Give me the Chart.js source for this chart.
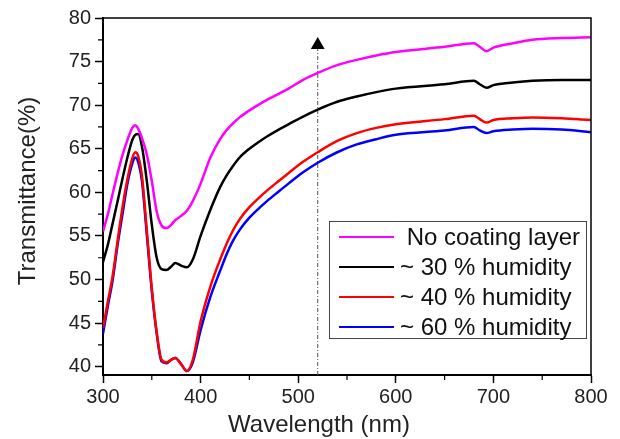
<!DOCTYPE html>
<html>
<head>
    <title>Transmittance vs Wavelength</title>
    <script src="https://cdn.jsdelivr.net/npm/chart.js"></script>
    <meta charset="UTF-8" />
    <style>
  html, body {
    margin: 0;
    padding: 0;
    background: #fff;
    overflow: hidden;
  }
  #wrap {
    width: 620px;
    height: 439px;
  }
</style>
</head>
<body>
    <div id="wrap"><canvas id="myChart" width="620" height="439"></canvas></div>
    <script>
        // Data
        const wavelengths = [300, 305, 310, 315, 320, 325, 330, 333, 336, 340, 345, 350, 355, 360, 365, 370, 374, 380, 386, 392,
                             400, 410, 420, 427, 433, 440, 450, 460, 468, 480, 490, 505, 520, 540, 560, 580, 600, 650, 680, 686, 693, 700, 720, 740, 770, 800];
        const noCoating = [55.5, 57.5, 59.9, 62.2, 64.3, 66.0, 67.4, 67.7, 67.3, 66.2, 64.3, 61.3, 57.8, 56.2, 55.9, 56.3, 56.8, 57.3, 57.9, 59.0,
                           61.0, 64.0, 66.1, 67.2, 67.9, 68.6, 69.4, 70.1, 70.6, 71.3, 71.9, 72.9, 73.7, 74.6, 75.2, 75.7, 76.1, 76.7, 77.1, 76.7, 76.2, 76.6, 77.1, 77.5, 77.7, 77.8];
        const humidity30 = [52.0, 54.0, 56.5, 59.0, 61.6, 64.0, 66.0, 66.6, 66.7, 65.2, 61.2, 56.3, 52.5, 51.2, 51.1, 51.5, 51.9, 51.6, 51.4, 52.3,
                            55.0, 58.0, 60.6, 62.0, 63.0, 64.0, 65.0, 65.8, 66.4, 67.2, 67.8, 68.7, 69.5, 70.4, 71.0, 71.5, 71.9, 72.4, 72.8, 72.4, 72.0, 72.3, 72.6, 72.8, 72.9, 72.9];
        const humidity40 = [44.4, 47.5, 50.5, 54.5, 58.3, 61.5, 63.9, 64.6, 64.2, 61.8, 55.5, 49.0, 44.0, 40.8, 40.5, 40.8, 41.0, 40.3, 39.5, 40.8,
                            45.2, 49.2, 52.3, 54.2, 55.6, 56.9, 58.3, 59.4, 60.2, 61.3, 62.2, 63.5, 64.6, 65.9, 66.8, 67.4, 67.8, 68.4, 68.8, 68.4, 68.0, 68.3, 68.5, 68.6, 68.5, 68.3];
        const humidity60 = [43.8, 47.0, 50.0, 54.0, 57.5, 61.0, 63.3, 64.0, 63.5, 61.2, 55.0, 48.7, 43.8, 40.6, 40.4, 40.8, 41.0, 40.3, 39.5, 40.5,
                            44.2, 48.0, 51.0, 53.0, 54.4, 55.7, 57.1, 58.2, 59.0, 60.1, 61.0, 62.3, 63.4, 64.6, 65.5, 66.1, 66.6, 67.1, 67.5, 67.1, 66.8, 67.0, 67.2, 67.3, 67.2, 66.9];
        const seriesLabels = ['No coating layer', '~ 30 % humidity', '~ 40 % humidity', '~ 60 % humidity'];
        const seriesColors = ['#ff00ff', '#000000', '#ff0000', '#0000ff'];
        const xTicks = [300, 400, 500, 600, 700, 800];
        const xMinorTicks = [350, 450, 550, 650, 750];
        const yTicks = [40, 45, 50, 55, 60, 65, 70, 75, 80];
        const yMinorTicks = [42.5, 47.5, 52.5, 57.5, 62.5, 67.5, 72.5, 77.5];
        // vertical marker with arrow
        const markerX = 520;
        const markerBottom = 39.05;
        const markerTop = 76.9;

        const allSeries = [noCoating, humidity30, humidity40, humidity60];
        const datasets = allSeries.map((vals, i) => ({
            label: seriesLabels[i],
            data: wavelengths.map((w, j) => ({ x: w, y: vals[j] })),
            borderColor: seriesColors[i],
            borderWidth: 2.5,
            pointRadius: 0,
            cubicInterpolationMode: 'monotone',
            fill: false
        }));
        datasets.push({
            label: 'marker',
            data: [{ x: markerX, y: markerBottom }, { x: markerX, y: markerTop }],
            borderColor: '#555',
            borderWidth: 1,
            borderDash: [4, 2, 1, 2],
            pointStyle: 'triangle',
            pointRadius: [0, 8],
            pointBackgroundColor: '#000',
            pointBorderColor: '#000',
            pointBorderWidth: 0,
            fill: false
        });

        const FONT = 'Arial, "Liberation Sans", sans-serif';

        // frame, minor ticks, axis titles and the legend box
        const decorations = {
            id: 'decorations',
            afterDraw(chart) {
                const ctx = chart.ctx;
                const a = chart.chartArea;
                const xs = chart.scales.x, ys = chart.scales.y;
                ctx.save();
                ctx.strokeStyle = '#000';
                ctx.lineWidth = 1.5;
                ctx.beginPath();
                ctx.moveTo(a.left, a.top);
                ctx.lineTo(a.right, a.top);
                ctx.lineTo(a.right, a.bottom);
                ctx.stroke();

                ctx.lineWidth = 1.2;
                ctx.beginPath();
                yMinorTicks.forEach(v => {
                    const py = ys.getPixelForValue(v);
                    ctx.moveTo(a.left - 5, py);
                    ctx.lineTo(a.left, py);
                });
                xMinorTicks.forEach(v => {
                    const px = xs.getPixelForValue(v);
                    ctx.moveTo(px, a.bottom);
                    ctx.lineTo(px, a.bottom + 5);
                });
                ctx.stroke();

                // axis titles
                ctx.fillStyle = '#222';
                ctx.font = '24px ' + FONT;
                ctx.textAlign = 'center';
                ctx.textBaseline = 'alphabetic';
                ctx.fillText('Wavelength (nm)', 319, 432);
                ctx.save();
                ctx.translate(35, 191);
                ctx.rotate(-Math.PI / 2);
                ctx.fillText('Transmittance(%)', 0, 0);
                ctx.restore();

                // legend
                ctx.fillStyle = '#fff';
                ctx.fillRect(329, 221, 258, 118);
                ctx.strokeStyle = '#444';
                ctx.lineWidth = 1;
                ctx.strokeRect(329.5, 221.5, 257, 117);
                ctx.font = '24px ' + FONT;
                ctx.textAlign = 'left';
                ctx.textBaseline = 'middle';
                seriesLabels.forEach((lab, i) => {
                    const y = 237 + i * 30;
                    ctx.strokeStyle = seriesColors[i];
                    ctx.lineWidth = 2;
                    ctx.beginPath();
                    ctx.moveTo(339, y);
                    ctx.lineTo(394, y);
                    ctx.stroke();
                    ctx.fillStyle = '#111';
                    ctx.fillText(lab.startsWith('~') ? lab : ' ' + lab, 400, y + 1);
                });
                ctx.restore();
            }
        };

        const ctx = document.getElementById('myChart').getContext('2d');
        const myChart = new Chart(ctx, {
            type: 'line',
            data: { datasets: datasets },
            options: {
                responsive: false,
                animation: false,
                layout: { padding: { top: 18, right: 29, left: 0, bottom: 0 } },
                plugins: {
                    legend: { display: false },
                    tooltip: { enabled: false }
                },
                scales: {
                    x: {
                        type: 'linear',
                        min: 300,
                        max: 800,
                        afterBuildTicks: (scale) => { scale.ticks = xTicks.map(v => ({ value: v })); },
                        afterFit: (scale) => { scale.height = 64; },
                        grid: { drawOnChartArea: false, tickLength: 8, tickWidth: 1.5, tickColor: '#000' },
                        border: { color: '#000', width: 2 },
                        ticks: { color: '#222', font: { size: 20, family: FONT }, padding: 2, maxRotation: 0 }
                    },
                    y: {
                        min: 39.05,
                        max: 80,
                        afterBuildTicks: (scale) => { scale.ticks = yTicks.map(v => ({ value: v })); },
                        afterFit: (scale) => { scale.width = 103; },
                        grid: { drawOnChartArea: false, tickLength: 8, tickWidth: 1.5, tickColor: '#000' },
                        border: { color: '#000', width: 2 },
                        ticks: { color: '#222', font: { size: 20, family: FONT }, padding: 4 }
                    }
                }
            },
            plugins: [decorations]
        });
    </script>
</body>
</html>
